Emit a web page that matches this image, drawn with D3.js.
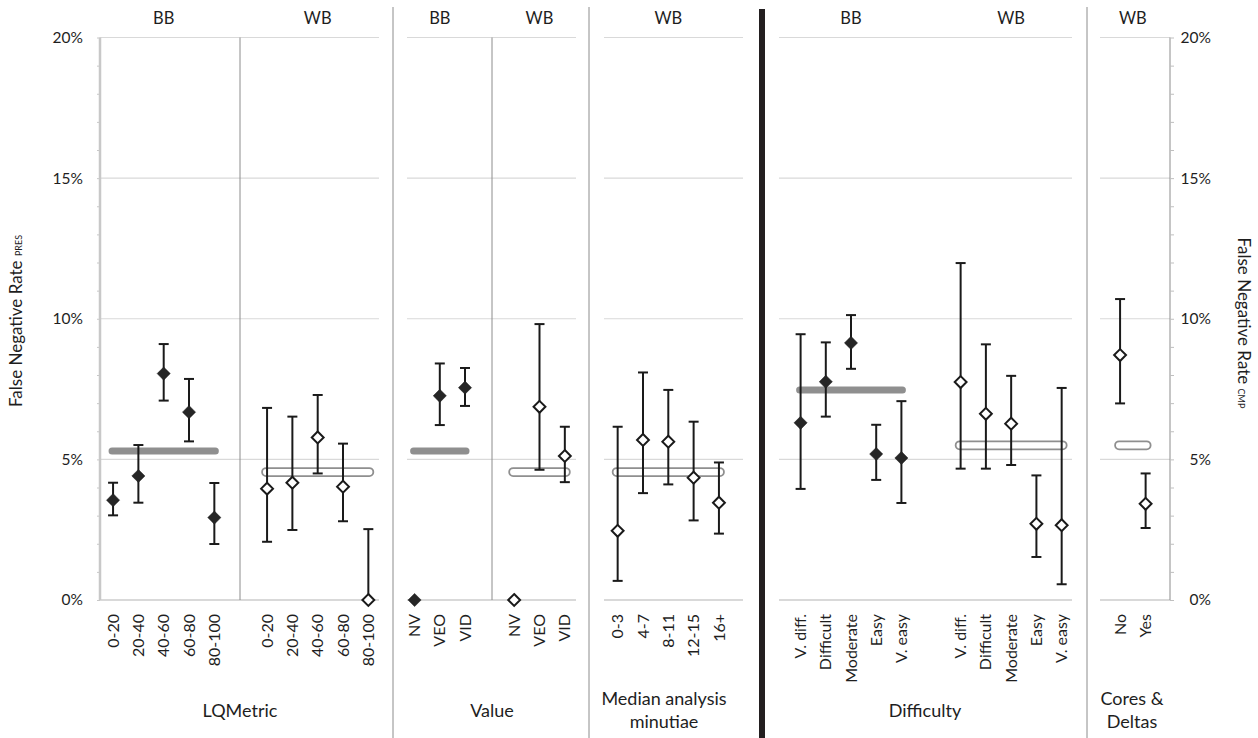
<!DOCTYPE html>
<html>
<head>
<meta charset="utf-8">
<script src="https://cdn.jsdelivr.net/npm/d3@7"></script>
<style>
  body { margin: 0; background: #fff; }
  text { font-family: Lato, "Open Sans", sans-serif; fill: #1e1e1e; }
</style>
</head>
<body>
<div id="chart"></div>
<script>
// Category labels
const lqCats = ["0-20", "20-40", "40-60", "60-80", "80-100"];
const valueCats = ["NV", "VEO", "VID"];
const minutiaeCats = ["0-3", "4-7", "8-11", "12-15", "16+"];
const diffCats = ["V. diff.", "Difficult", "Moderate", "Easy", "V. easy"];
const coreCats = ["No", "Yes"];

// False negative rates (%) with confidence bounds
const lqBB = [3.55, 4.41, 8.05, 6.68, 2.93];
const lqBBLow = [3.01, 3.46, 7.09, 5.64, 1.99];
const lqBBHigh = [4.17, 5.51, 9.10, 7.86, 4.16];
const lqWB = [3.96, 4.17, 5.78, 4.03, 0];
const lqWBLow = [2.07, 2.49, 4.50, 2.80, 0];
const lqWBHigh = [6.83, 6.52, 7.29, 5.56, 2.52];

const valueBB = [0, 7.26, 7.55];
const valueBBLow = [0, 6.22, 6.90];
const valueBBHigh = [0, 8.41, 8.25];
const valueWB = [0, 6.87, 5.12];
const valueWBLow = [0, 4.63, 4.19];
const valueWBHigh = [0, 9.81, 6.16];

const minutiaeWB = [2.46, 5.69, 5.63, 4.35, 3.46];
const minutiaeWBLow = [0.68, 3.80, 4.11, 2.83, 2.36];
const minutiaeWBHigh = [6.16, 8.09, 7.47, 6.34, 4.89];

const diffBB = [6.30, 7.76, 9.14, 5.19, 5.05];
const diffBBLow = [3.95, 6.52, 8.22, 4.27, 3.45];
const diffBBHigh = [9.45, 9.16, 10.13, 6.23, 7.07];
const diffWB = [7.75, 6.62, 6.27, 2.71, 2.66];
const diffWBLow = [4.67, 4.67, 4.80, 1.53, 0.56];
const diffWBHigh = [11.98, 9.09, 7.97, 4.43, 7.54];

const coreWB = [8.71, 3.42];
const coreWBLow = [6.99, 2.56];
const coreWBHigh = [10.70, 4.50];

// Overall rates (the horizontal bars)
const overallBB = [5.3, 5.3, 7.47];        // LQMetric, Value, Difficulty
const overallWB = [4.55, 4.55, 4.55, 5.5, 5.5]; // LQMetric, Value, Minutiae, Difficulty, Cores

const yTicks = [0, 5, 10, 15, 20];

// ---- layout ----
const W = 1258, H = 738;
const svg = d3.select("#chart").append("svg")
    .attr("width", W)
    .attr("height", H);

const y = d3.scaleLinear().domain([0, 20]).range([600, 37.5]);

// x extents of each subgroup (category band range) and of each panel's gridlines
const subRanges = [
    [100.4, 227], [254.4, 381],     // LQMetric BB / WB
    [402, 477.6], [501.5, 577.5],   // Value BB / WB
    [605, 731.6],                   // Median minutiae WB
    [788, 914], [948, 1074.3],      // Difficulty BB / WB
    [1107.3, 1158.4]                // Cores & Deltas WB
];
const gridRanges = [[100, 379], [407, 576], [604, 743], [779, 1072], [1100, 1170]];

const series = [
    { head: "BB", filled: true, cats: lqCats, rate: lqBB, low: lqBBLow, high: lqBBHigh, mean: overallBB[0] },
    { head: "WB", filled: false, cats: lqCats, rate: lqWB, low: lqWBLow, high: lqWBHigh, mean: overallWB[0] },
    { head: "BB", filled: true, cats: valueCats, rate: valueBB, low: valueBBLow, high: valueBBHigh, mean: overallBB[1] },
    { head: "WB", filled: false, cats: valueCats, rate: valueWB, low: valueWBLow, high: valueWBHigh, mean: overallWB[1] },
    { head: "WB", filled: false, cats: minutiaeCats, rate: minutiaeWB, low: minutiaeWBLow, high: minutiaeWBHigh, mean: overallWB[2] },
    { head: "BB", filled: true, cats: diffCats, rate: diffBB, low: diffBBLow, high: diffBBHigh, mean: overallBB[2] },
    { head: "WB", filled: false, cats: diffCats, rate: diffWB, low: diffWBLow, high: diffWBHigh, mean: overallWB[3] },
    { head: "WB", filled: false, cats: coreCats, rate: coreWB, low: coreWBLow, high: coreWBHigh, mean: overallWB[4] }
];
series.forEach((s, i) => {
    s.x = d3.scaleBand().domain(s.cats).range(subRanges[i]);
});

const panelTitles = [
    { lines: ["LQMetric"], x: 240 },
    { lines: ["Value"], x: 492 },
    { lines: ["Median analysis", "minutiae"], x: 664 },
    { lines: ["Difficulty"], x: 925 },
    { lines: ["Cores &", "Deltas"], x: 1132 }
];

// gridlines
gridRanges.forEach(r => {
    svg.append("g").selectAll("line")
        .data(yTicks)
        .enter()
        .append("line")
        .attr("x1", r[0])
        .attr("x2", r[1])
        .attr("y1", d => y(d))
        .attr("y2", d => y(d))
        .style("stroke", "#d9d9d9")
        .style("stroke-width", d => d === 0 ? 2 : 1.2);
});

// left axis: minor ticks every 1%
const leftAxis = svg.append("g")
    .attr("transform", "translate(100,0)")
    .call(d3.axisLeft(y).tickValues(d3.range(0, 21)).tickSize(3).tickFormat(""));
leftAxis.select(".domain").style("stroke", "#c8c8c8").style("stroke-width", 2.5)
    .attr("d", `M0,${y(0)}V${y(20)}`);
leftAxis.selectAll(".tick line").style("stroke", "#c8c8c8");

svg.append("g").selectAll("text")
    .data(yTicks)
    .enter()
    .append("text")
    .attr("x", 83)
    .attr("y", d => y(d))
    .attr("dy", "0.35em")
    .style("text-anchor", "end")
    .style("font-size", "15.5px")
    .text(d => d + "%");

// right axis
const rightAxis = svg.append("g")
    .attr("transform", "translate(1170,0)")
    .call(d3.axisRight(y).tickValues(d3.range(0, 21)).tickSize(4).tickFormat(""));
rightAxis.select(".domain").style("stroke", "#8c8c8c").style("stroke-width", 1)
    .attr("d", `M0,${y(0)}V${y(20)}`);
rightAxis.selectAll(".tick line").style("stroke", "#bfbfbf");

svg.append("g").selectAll("text")
    .data(yTicks)
    .enter()
    .append("text")
    .attr("x", 1211)
    .attr("y", d => y(d))
    .attr("dy", "0.35em")
    .style("text-anchor", "end")
    .style("font-size", "15.5px")
    .text(d => d + "%");

// axis titles
const leftTitle = svg.append("text")
    .attr("transform", "translate(22,321) rotate(-90)")
    .style("text-anchor", "middle")
    .style("font-size", "17px");
leftTitle.append("tspan").text("False Negative Rate ");
leftTitle.append("tspan").style("font-size", "9px").text("PRES");

const rightTitle = svg.append("text")
    .attr("transform", "translate(1238,323) rotate(90)")
    .style("text-anchor", "middle")
    .style("font-size", "17px");
rightTitle.append("tspan").text("False Negative Rate ");
rightTitle.append("tspan").style("font-size", "9px").text("CMP");

// separators
svg.append("g").selectAll("line")
    .data([240, 492])
    .enter()
    .append("line")
    .attr("x1", d => d).attr("x2", d => d)
    .attr("y1", y(20)).attr("y2", y(0))
    .style("stroke", "#8c8c8c")
    .style("stroke-width", 1);

svg.append("g").selectAll("line")
    .data([393, 589, 1087])
    .enter()
    .append("line")
    .attr("x1", d => d).attr("x2", d => d)
    .attr("y1", 7).attr("y2", H)
    .style("stroke", "#8c8c8c")
    .style("stroke-width", 1);

svg.append("line")
    .attr("x1", 762).attr("x2", 762)
    .attr("y1", 9).attr("y2", H)
    .style("stroke", "#231f20")
    .style("stroke-width", 6);

// overall-rate bars
series.forEach(s => {
    const x0 = s.x(s.cats[0]) + s.x.bandwidth() / 2;
    const x1 = s.x(s.cats[s.cats.length - 1]) + s.x.bandwidth() / 2;
    if (s.filled) {
        svg.append("line")
            .attr("x1", x0 - 1).attr("x2", x1 + 1)
            .attr("y1", y(s.mean)).attr("y2", y(s.mean))
            .style("stroke", "#8f8f8f")
            .style("stroke-width", 7)
            .style("stroke-linecap", "round");
    } else {
        svg.append("rect")
            .attr("x", x0 - 5).attr("width", x1 - x0 + 10)
            .attr("y", y(s.mean) - 4).attr("height", 8)
            .attr("rx", 4)
            .style("fill", "none")
            .style("stroke", "#8f8f8f")
            .style("stroke-width", 1.8);
    }
});

// group headers, error bars, markers and tick labels
const diamond = d3.symbol().type(d3.symbolDiamond2);
series.forEach(s => {
    const cx = c => s.x(c) + s.x.bandwidth() / 2;
    const r = s.x.range();

    svg.append("text")
        .attr("x", (r[0] + r[1]) / 2)
        .attr("y", 24)
        .style("text-anchor", "middle")
        .style("font-size", "16.5px")
        .text(s.head);

    const g = svg.append("g");
    const pts = s.cats.map((c, i) => ({ cat: c, v: s.rate[i], lo: s.low[i], hi: s.high[i] }));

    const err = g.selectAll(".err")
        .data(pts.filter(d => d.hi > d.lo))
        .enter()
        .append("g")
        .attr("class", "err")
        .style("stroke", "#1a1a1a")
        .style("stroke-width", 2);
    err.append("line")
        .attr("x1", d => cx(d.cat)).attr("x2", d => cx(d.cat))
        .attr("y1", d => y(d.lo)).attr("y2", d => y(d.hi));
    err.append("line")
        .attr("x1", d => cx(d.cat) - 5).attr("x2", d => cx(d.cat) + 5)
        .attr("y1", d => y(d.hi)).attr("y2", d => y(d.hi));
    err.filter(d => d.lo > 0).append("line")
        .attr("x1", d => cx(d.cat) - 5).attr("x2", d => cx(d.cat) + 5)
        .attr("y1", d => y(d.lo)).attr("y2", d => y(d.lo));

    g.selectAll(".mark")
        .data(pts)
        .enter()
        .append("path")
        .attr("class", "mark")
        .attr("transform", d => `translate(${cx(d.cat)},${y(d.v)})`)
        .attr("d", diamond.size(s.filled ? 110 : 90))
        .style("fill", s.filled ? "#262626" : "#fff")
        .style("stroke", "#1a1a1a")
        .style("stroke-width", s.filled ? 0.5 : 2);

    g.selectAll(".cat")
        .data(s.cats)
        .enter()
        .append("text")
        .attr("transform", d => `translate(${cx(d)},614) rotate(-90)`)
        .attr("dy", "0.35em")
        .style("text-anchor", "end")
        .style("font-size", "16px")
        .text(d => d);
});

// panel titles
panelTitles.forEach(p => {
    const t = svg.append("text")
        .attr("x", p.x)
        .style("text-anchor", "middle")
        .style("font-size", "18px");
    p.lines.forEach((l, i) => {
        t.append("tspan")
            .attr("x", p.x)
            .attr("y", (p.lines.length === 1 ? 717 : 705) + i * 23)
            .text(l);
    });
});
</script>
</body>
</html>
